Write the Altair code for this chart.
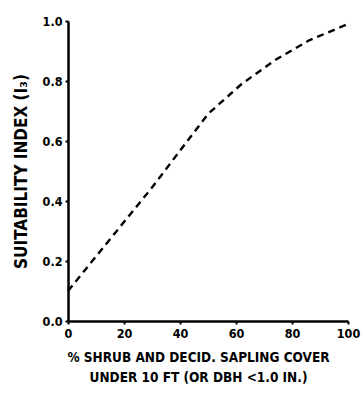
import altair as alt
import pandas as pd

cover = [0, 30, 50, 62, 74, 86, 100]
index = [0.10, 0.445, 0.69, 0.79, 0.87, 0.935, 0.99]
x_ticks = [0, 20, 40, 60, 80, 100]
y_ticks = [0.0, 0.2, 0.4, 0.6, 0.8, 1.0]

df = pd.DataFrame({"cover": cover, "index": index})

FONT = "DejaVu Sans Condensed"

chart = alt.Chart(df).mark_line(
    color="black", strokeWidth=2.4, strokeDash=[7, 5]
).encode(
    x=alt.X("cover:Q", scale=alt.Scale(domain=[0, 100], nice=False),
            axis=alt.Axis(values=x_ticks, format="d",
                          title=["% SHRUB AND DECID. SAPLING COVER",
                                 "UNDER 10 FT (OR DBH <1.0 IN.)"],
                          titlePadding=11, titleFontSize=13.5,
                          titleX=130, titleAlign="center",
                          labelFlush=False)),
    y=alt.Y("index:Q", scale=alt.Scale(domain=[0, 1], nice=False),
            axis=alt.Axis(values=y_ticks, format=".1f",
                          title="SUITABILITY INDEX (I₃)",
                          titlePadding=12, titleFontSize=17,
                          labelFlush=False)),
).properties(
    width=280, height=300,
    autosize=alt.AutoSizeParams(type="none"),
    padding={"left": 68, "top": 21, "right": 15, "bottom": 85},
).configure_view(stroke=None).configure_axis(
    domainColor="black", domainWidth=2.5, tickColor="black", tickSize=3,
    tickWidth=2, grid=False, labelFont=FONT, labelFontWeight="bold",
    labelFontSize=12.5, labelColor="black", titleFont=FONT,
    titleFontWeight="bold", titleColor="black",
    labelPadding=3,
).configure_axisX(titleLineHeight=20, labelPadding=3)

chart.save("out.html", embed_options={"renderer": "svg", "actions": False})
